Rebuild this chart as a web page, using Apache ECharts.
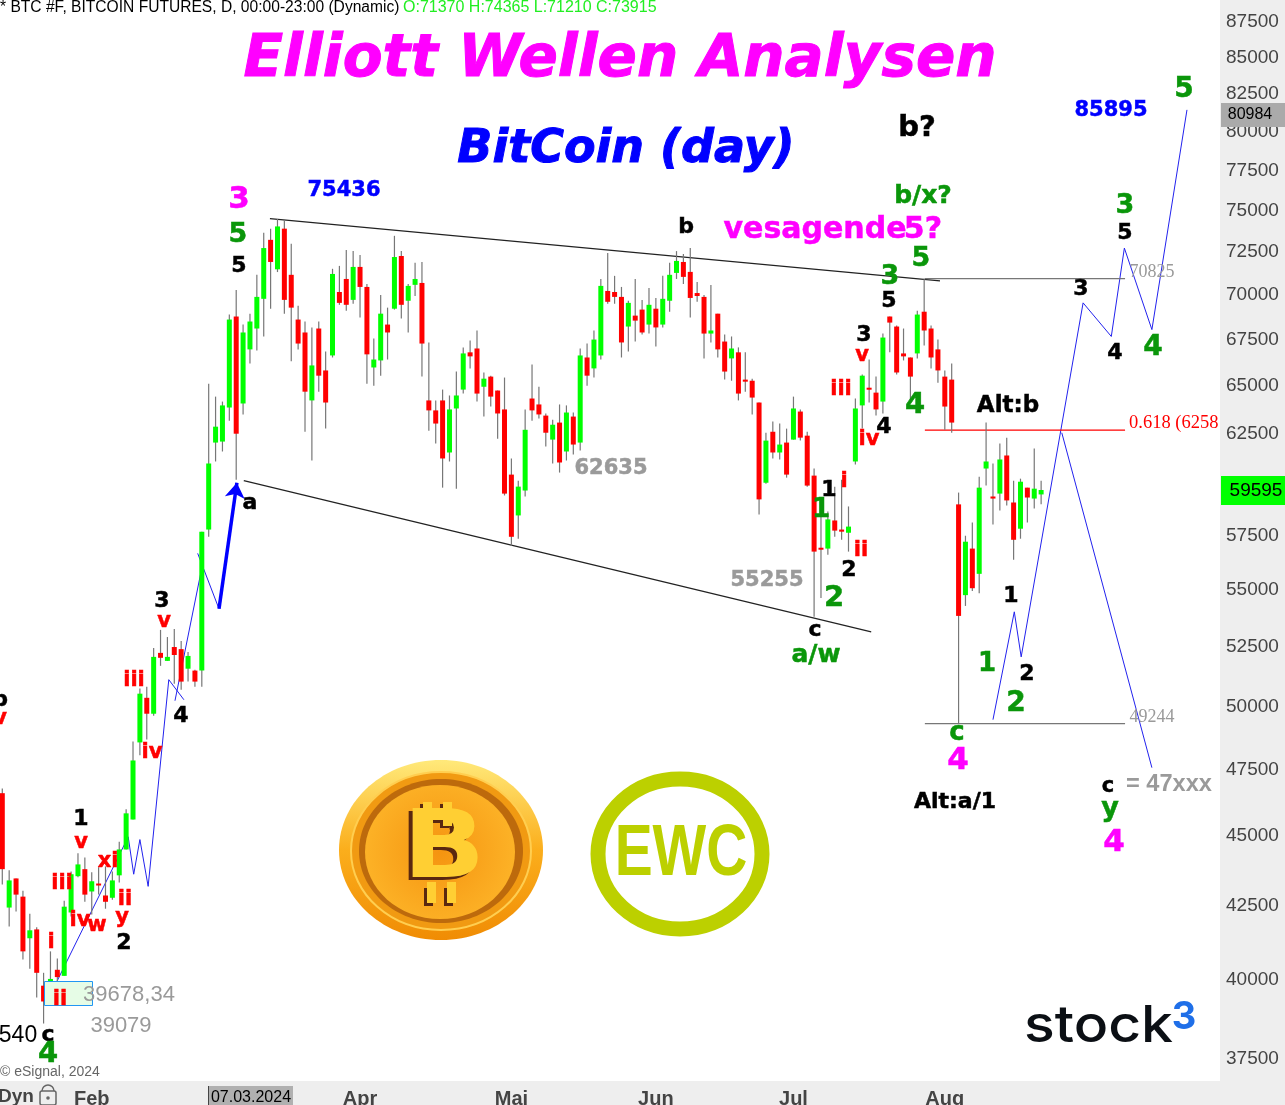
<!DOCTYPE html>
<html>
<head>
<meta charset="utf-8">
<title>BitCoin (day)</title>
<style>
  html, body { margin: 0; padding: 0; background: #fff; }
  #chart { width: 1285px; height: 1105px; }
</style>
<script src="https://cdn.jsdelivr.net/npm/echarts@6/dist/echarts.min.js"></script>
</head>
<body>
<div id="chart"></div>
<script>
// trading days, index 0 is the first visible candle
const opens = [
  46520, 42370, 43390, 42750, 41320, 41620, 39750, 39870, 40270, 40070,
  42200, 43470, 43720, 42930, 43210, 42790, 42710, 43500, 44430, 45530,
  48490, 50290, 49640, 52170, 51830, 52420, 52330, 51500, 51420, 51420,
  57700, 61950, 62000, 63750, 68670, 63960, 66850, 68000, 69670, 73110,
  71370, 73780, 71050, 68500, 67780, 64120, 68000, 65710, 66520, 70060,
  70810, 69610, 71510, 70350, 65870, 66250, 68220, 69110, 72150, 69560,
  70470, 70580, 64120, 63600, 64120, 61450, 63700, 64690, 66690, 66900,
  64840, 65380, 64640, 63650, 60350, 58370, 59570, 64220, 63910, 63330,
  62100, 62970, 61500, 63280, 61950, 66410, 65820, 66520, 70120, 70060,
  69780, 68110, 68720, 69060, 68220, 69110, 68220, 69560, 71160, 71800,
  71220, 70000, 69780, 67720, 68830, 67280, 66360, 66690, 65220, 65160,
  64010, 59950, 62500, 61450, 61950, 62100, 63540, 62300, 60300, 56850,
  56810, 58130, 57700, 57550, 61000, 63860, 64790, 64530, 64060, 68670,
  68110, 66630, 66410, 66630, 68940, 68000, 66850, 65380, 65220, 58900,
  54690, 56810, 55650, 60650, 59280, 59420, 61300, 58990, 57740, 59710,
  59180, 59380
]
const highs = [
  46700, 43680, 43390, 42960, 42160, 41690, 40170, 40880, 40640, 42610,
  43640, 44290, 44140, 43610, 43790, 43820, 43640, 44710, 45910, 48530,
  50670, 50750, 52380, 53160, 52850, 53200, 52680, 52210, 51460, 57600,
  65000, 64320, 64060, 68780, 70170, 68220, 68830, 71050, 73540, 73780,
  74365, 74300, 72870, 69280, 68390, 68060, 68390, 66740, 71400, 71570,
  72500, 72440, 72210, 70520, 67450, 69890, 69170, 73350, 72440, 70520,
  71750, 71800, 67230, 64120, 64690, 64380, 65650, 66960, 67340, 67890,
  65600, 65430, 64640, 65330, 61150, 60050, 63650, 66030, 64840, 63440,
  63120, 63910, 63860, 63490, 66900, 67170, 67890, 70810, 72330, 70990,
  70350, 69560, 70810, 69610, 70290, 69720, 70990, 71750, 72440, 72270,
  72620, 70640, 69890, 70460, 68830, 67670, 67560, 66960, 66690, 65270,
  64010, 62450, 63020, 62920, 62660, 64320, 63650, 62500, 60650, 58560,
  58560, 59760, 60100, 58800, 64220, 65490, 66300, 65380, 67720, 68670,
  68170, 68000, 66410, 69000, 70825, 68170, 67390, 65710, 66090, 59470,
  57410, 58030, 60250, 62970, 60900, 61900, 62200, 60050, 60150, 59710,
  61650, 60050
]
const lows = [
  43180, 41720, 42230, 40610, 40300, 39370, 38540, 39780, 39870, 40070,
  42060, 43430, 42570, 42130, 42820, 42330, 42640, 43250, 44430, 45530,
  47980, 48610, 49560, 51620, 51830, 50870, 50620, 50960, 50750, 50750,
  57360, 61000, 61500, 63070, 60100, 63390, 66090, 66790, 67560, 69110,
  71210, 68830, 66200, 66850, 62500, 61050, 64580, 62660, 66410, 69330,
  69000, 69390, 68610, 65000, 64900, 65430, 66300, 69060, 68560, 67780,
  69830, 65380, 62550, 61900, 59710, 61000, 59660, 64480, 65820, 64060,
  63280, 63800, 62150, 59330, 56940, 57270, 59280, 63070, 63180, 61750,
  60900, 60450, 61050, 61350, 61550, 64900, 65330, 66300, 69390, 69390,
  66410, 66740, 67280, 67670, 67720, 67010, 68060, 68940, 70810, 70520,
  68610, 69500, 66360, 67230, 66410, 65220, 65160, 64120, 64580, 63390,
  58420, 59900, 61150, 61100, 60200, 62100, 62050, 59760, 53730, 54560,
  56530, 57360, 57220, 56670, 60850, 62660, 64010, 63330, 63440, 66690,
  65490, 66250, 64170, 66360, 67060, 65820, 65050, 62600, 62450, 49244,
  54210, 54870, 54780, 59810, 57940, 58610, 58850, 56300, 57270, 58030,
  58700, 58900
]
const closes = [
  43720, 43320, 42820, 40880, 41590, 40170, 39240, 39970, 40030, 42400,
  43540, 43890, 42820, 43290, 43140, 42570, 43320, 44430, 45760, 47780,
  50460, 49640, 52000, 51960, 52000, 52080, 50960, 52040, 50960, 57600,
  60900, 62760, 63860, 68500, 62400, 67780, 68390, 69780, 72620, 71800,
  73915, 69610, 69170, 67170, 64580, 65980, 65430, 64010, 71100, 69440,
  69330, 71510, 70350, 66580, 66300, 68830, 67780, 72090, 69330, 70410,
  70810, 67170, 63600, 62920, 61150, 63650, 64380, 66630, 66470, 64480,
  65270, 64320, 63440, 59420, 57360, 59760, 62600, 63600, 63390, 62450,
  62860, 60950, 63490, 61850, 66520, 65430, 67390, 70410, 69500, 69780,
  67230, 69440, 68440, 67780, 69330, 68060, 69670, 71050, 71860, 70930,
  69720, 69830, 67720, 67890, 66850, 65650, 66900, 64480, 65110, 64270,
  59140, 62050, 61450, 61850, 60350, 63700, 62200, 59810, 56670, 56760,
  58180, 57650, 57600, 57840, 63700, 65430, 64690, 63650, 67500, 68330,
  65600, 66470, 65380, 68780, 67890, 66410, 65710, 63800, 62970, 53770,
  57130, 55000, 59710, 61000, 59180, 61100, 59090, 57220, 60000, 59230,
  59660, 59595
]

const priceTicks = [
  87500, 85000, 82500, 80000, 77500, 75000, 72500, 70000, 67500, 65000, 62500,
  57500, 55000, 52500, 50000, 47500, 45000, 42500, 40000, 37500
]
const monthNames = ['Feb', 'Apr', 'Mai', 'Jun', 'Jul', 'Aug']
const monthDays = [13, 52, 74, 95, 115, 137]

// trend lines and the drawn wave counts, [day index, price]
const channelTop = [[38.9, 74390], [136.3, 70700]]
const channelBottom = [[35.1, 60050], [126.3, 53070]]
const level70825 = [[134.1, 70825], [163.2, 70825]]
const level618 = [[134.1, 62580], [163.2, 62580]]
const level49244 = [[134.1, 49244], [163.2, 49244]]
const waveEarly = [[7.9, 39870], [18.3, 44890], [19.1, 43540], [20, 44790], [21.2, 43110], [24.2, 51040], [26.4, 50210]]
const waveEarly2 = [[25.1, 50170], [29, 55920]]
const waveEarly3 = [[28.4, 56590], [31.5, 54080]]
const arrowUp = [[31.5, 54080], [34.1, 59950]]
const waveUp = [[144, 49400], [147.1, 53950], [148.1, 52000], [157.1, 69440], [161.2, 67560], [163.1, 72620], [167.1, 67940], [172.2, 81300]]
const waveDown = [[154, 62450], [167.1, 47500]]

const candleData = opens.map((o, i) => [i, o, highs[i], lows[i], closes[i]])

function renderCandle(params, api) {
  const x = api.value(0)
  const o = api.coord([x, api.value(1)])
  const h = api.coord([x, api.value(2)])
  const l = api.coord([x, api.value(3)])
  const c = api.coord([x, api.value(4)])
  const top = Math.min(o[1], c[1])
  const bodyH = Math.max(Math.abs(o[1] - c[1]), 2)
  const isUp = api.value(4) >= api.value(1)
  return {
    type: 'group',
    children: [
      {
        type: 'line',
        shape: { x1: o[0], y1: h[1], x2: o[0], y2: l[1] },
        style: { stroke: '#777', lineWidth: 1.2 }
      },
      {
        type: 'rect',
        shape: { x: o[0] - 2.5, y: top, width: 5, height: bodyH },
        style: { fill: isUp ? '#00ff00' : '#ff0000' }
      }
    ]
  }
}

function line(data, color, width) {
  return {
    type: 'line',
    data: data,
    showSymbol: false,
    silent: true,
    z: 1,
    lineStyle: { color: color, width: width || 1 }
  }
}

// annotation text, the chart tool's free hand labels
const BOLD = '"DejaVu Sans"'
const ARIAL = '"Liberation Sans"'
function txt(text, x, y, size, color, extra) {
  return {
    type: 'text',
    x: x,
    y: y + 2,
    z: 100,
    silent: true,
    style: Object.assign({
      text: text,
      fill: color,
      stroke: color,
      lineWidth: 0.5,
      font: 'bold ' + size + 'px ' + BOLD,
      align: 'center',
      verticalAlign: 'middle'
    }, extra || {})
  }
}
const plain = (size, font) => ({ font: size + 'px ' + (font || ARIAL), lineWidth: 0 })

const RED = '#ff0000'
const GREEN = '#0a960a'
const PINK = '#ff00ff'
const BLUE = '#0000ff'
const GREY = '#9a9a9a'
const BLACK = '#000'

const labels = [
  txt('Elliott Wellen Analysen', 620, 59, 58, PINK, { font: 'italic bold 58px ' + BOLD, lineWidth: 1 }),
  txt('BitCoin (day)', 626, 148, 46, BLUE, { font: 'italic bold 46px ' + BOLD, lineWidth: 1 }),

  txt('75436', 344, 189, 21, BLUE),
  txt('85895', 1111, 109, 21, BLUE),
  txt('62635', 611, 467, 21, GREY),
  txt('55255', 767, 579, 21, GREY),

  txt('3', 239, 198, 31, PINK),
  txt('5', 238, 233, 27, GREEN),
  txt('5', 239, 264, 22, BLACK),
  txt('a', 250, 501, 22, BLACK),
  txt('b', 686, 225, 22, BLACK),
  txt('b?', 917, 126, 29, BLACK),
  txt('b/x?', 923, 194, 25, GREEN),
  txt('vesagende', 815, 228, 30, PINK),
  txt('5?', 923, 228, 30, PINK),
  txt('3', 890, 275, 27, GREEN),
  txt('5', 889, 299, 22, BLACK),
  txt('5', 921, 257, 27, GREEN),
  txt('3', 864, 333, 22, BLACK),
  txt('v', 862, 354, 21, RED),
  txt('iii', 841, 388, 21, RED),
  txt('4', 915, 403, 29, GREEN),
  txt('4', 884, 425, 22, BLACK),
  txt('iv', 869, 438, 21, RED),
  txt('Alt:b', 1008, 404, 23, BLACK),
  txt('1', 829, 488, 22, BLACK),
  txt('1', 821, 508, 26, GREEN),
  txt('i', 844, 480, 21, RED),
  txt('ii', 861, 549, 21, RED),
  txt('2', 849, 568, 22, BLACK),
  txt('2', 834, 596, 29, GREEN),
  txt('c', 815, 628, 22, BLACK),
  txt('a/w', 816, 653, 25, GREEN),

  txt('c', 957, 731, 26, GREEN),
  txt('4', 958, 759, 31, PINK),
  txt('Alt:a/1', 955, 800, 22, BLACK),
  txt('1', 1011, 594, 22, BLACK),
  txt('2', 1027, 672, 22, BLACK),
  txt('1', 987, 662, 26, GREEN),
  txt('2', 1016, 702, 28, GREEN),
  txt('3', 1081, 287, 22, BLACK),
  txt('4', 1115, 351, 22, BLACK),
  txt('4', 1153, 346, 28, GREEN),
  txt('3', 1125, 204, 27, GREEN),
  txt('5', 1125, 231, 22, BLACK),
  txt('5', 1184, 88, 28, GREEN),
  txt('c', 1108, 785, 21, BLACK),
  txt('y', 1110, 807, 27, GREEN),
  txt('= 47xxx', 1169, 782, 23, GREY, { font: 'bold 23.6px ' + ARIAL, lineWidth: 0 }),
  txt('4', 1114, 841, 31, PINK),

  txt('b', 0, 698, 22, BLACK),
  txt('v', 0, 717, 21, RED),
  txt('3', 162, 599, 22, BLACK),
  txt('v', 164, 620, 21, RED),
  txt('iii', 134, 679, 21, RED),
  txt('iv', 152, 751, 21, RED),
  txt('4', 181, 714, 22, BLACK),
  txt('1', 81, 817, 22, BLACK),
  txt('v', 81, 841, 21, RED),
  txt('iii', 62, 882, 21, RED),
  txt('xi', 108, 860, 21, RED),
  txt('iv', 80, 919, 21, RED),
  txt('w', 97, 924, 21, RED),
  txt('ii', 125, 898, 21, RED),
  txt('y', 122, 916, 21, RED),
  txt('2', 124, 941, 22, BLACK),
  txt('i', 51, 941, 21, RED),
  txt('ii', 60, 998, 21, RED),
  txt('c', 48, 1033, 22, BLACK),
  txt('4', 48, 1052, 29, GREEN),
  txt('540', 18, 1034, 23, BLACK, plain(23)),
  txt('39678,34', 129, 993, 22, GREY, plain(22)),
  txt('39079', 121, 1024, 22, GREY, plain(22)),

  txt('70825', 1152, 270, 18, GREY, plain(18, '"Liberation Serif"')),
  txt('49244', 1152, 715, 18, GREY, plain(18, '"Liberation Serif"')),
  // runs under the price scale panel, so the panel cuts it off
  Object.assign(txt('0.618 (62581', 1129, 421, 17, RED, Object.assign(plain(18.5, '"Liberation Serif"'), { align: 'left' })), { z: -2 }),

  txt('* BTC #F, BITCOIN FUTURES, D, 00:00-23:00 (Dynamic)', 0, 6, 16, BLACK, Object.assign(plain(15.6), { align: 'left' })),
  txt('O:71370 H:74365 L:71210 C:73915', 403, 6, 16, '#22ee22', Object.assign(plain(16), { align: 'left' })),
  txt('\u00a9 eSignal, 2024', 0, 1070, 14, '#666', Object.assign(plain(14), { align: 'left' }))
]

// panels and boxes round the price scale
const panels = [
  { type: 'rect', z: -1, shape: { x: 1220, y: 0, width: 65, height: 1105 }, style: { fill: '#eeeeee' } },
  { type: 'rect', z: -1, shape: { x: 0, y: 1081, width: 1285, height: 24 }, style: { fill: '#eeeeee' } },
  { type: 'rect', z: 99, shape: { x: 1221, y: 476, width: 64, height: 29 }, style: { fill: '#00ff00' } },
  txt('59595', 1256, 489, 19, BLACK, plain(19)),
  { type: 'rect', z: 99, shape: { x: 1221, y: 103, width: 64, height: 24 }, style: { fill: '#aaaaaa' } },
  txt('80984', 1250, 113, 16, BLACK, plain(16)),
  { type: 'rect', z: 99, shape: { x: 208, y: 1086, width: 85, height: 19 }, style: { fill: '#b0b0b0' } },
  txt('07.03.2024', 251, 1096, 16, BLACK, plain(16)),
  { type: 'rect', z: 99, shape: { x: 208, y: 1086, width: 1, height: 19 }, style: { fill: '#444' } },
  txt('Dyn', -2, 1095, 19, '#444', { font: 'bold 19px ' + ARIAL, align: 'left', lineWidth: 0 }),
  { type: 'rect', z: 99, shape: { x: 40, y: 1091, width: 16, height: 14, r: 2 }, style: { fill: '#eeeeee', stroke: '#666', lineWidth: 1.5 } },
  { type: 'arc', z: 99, shape: { cx: 48, cy: 1091, r: 6, startAngle: Math.PI, endAngle: 0 }, style: { fill: 'none', stroke: '#666', lineWidth: 1.5 } },
  { type: 'circle', z: 99, shape: { cx: 48, cy: 1098, r: 1.8 }, style: { fill: '#666' } },
  { type: 'rect', z: 3, shape: { x: 44.5, y: 981.5, width: 48, height: 24 }, style: { fill: '#e6fce6', stroke: '#2196f3', lineWidth: 1 } }
]

// bitcoin coin
const coinB = (x, y, color, z) => ({
  type: 'text',
  x: x,
  y: y,
  z: z,
  scaleX: 1.15,
  style: { text: 'B', font: 'bold 94px ' + BOLD, align: 'center', verticalAlign: 'middle', fill: color }
})
const bar = (x, y, h, color, z) => ({ type: 'rect', z: z, shape: { x: x, y: y, width: 9, height: h }, style: { fill: color } })
const coin = [
  { type: 'ellipse', z: 40, shape: { cx: 441, cy: 850, rx: 102, ry: 90 }, style: { fill: new echarts.graphic.LinearGradient(0, 0, 0, 1, [{ offset: 0, color: '#ffe97a' }, { offset: 0.5, color: '#fbae1c' }, { offset: 1, color: '#f08c04' }]) } },
  { type: 'ellipse', z: 41, shape: { cx: 441, cy: 851, rx: 90, ry: 79 }, style: { fill: '#f19a12', stroke: '#ffce50', lineWidth: 2 } },
  { type: 'ellipse', z: 42, shape: { cx: 441, cy: 851, rx: 82, ry: 72 }, style: { fill: '#bd6a0c' } },
  { type: 'ellipse', z: 43, shape: { cx: 440, cy: 852, rx: 75, ry: 67 }, style: { fill: new echarts.graphic.RadialGradient(0.5, 0.5, 0.6, [{ offset: 0, color: '#f59410' }, { offset: 1, color: '#fdb428' }]) } },
  bar(420, 804, 24, '#5a2810', 48),
  bar(440, 804, 24, '#5a2810', 48),
  bar(424, 888, 18, '#5a2810', 48),
  bar(444, 888, 18, '#5a2810', 48),
  bar(423, 802, 24, '#ffcf33', 50),
  bar(443, 802, 24, '#ffcf33', 50),
  bar(427, 882, 21, '#ffcf33', 50),
  bar(447, 882, 21, '#ffcf33', 50),
  coinB(440, 856, '#5a2810', 49),
  coinB(444, 853, '#ffcf33', 50)
]

// EWC and stock3 logos
const logos = [
  { type: 'ellipse', z: 40, shape: { cx: 680, cy: 854, rx: 82, ry: 75 }, style: { fill: 'none', stroke: '#bcd000', lineWidth: 15 } },
  Object.assign(txt('EWC', 681, 853, 72, '#bcd000', { font: 'bold 72px ' + ARIAL, lineWidth: 0 }), { scaleX: 0.79 }),
  Object.assign(txt('stock', 1024, 1025, 50, '#0b0f14', { font: '500 51px Inter', align: 'left', lineWidth: 0 }), { scaleX: 1.12 }),
  txt('3', 1184, 1016, 38, '#1f6fe8', { font: 'bold 38px Inter', lineWidth: 0 })
]

const chart = echarts.init(document.getElementById('chart'), null, { renderer: 'canvas' })
chart.setOption({
  animation: false,
  backgroundColor: '#fff',
  grid: { left: 0, right: 65, top: 0, bottom: 24, outerBoundsMode: 'none' },
  xAxis: {
    type: 'value',
    min: -0.334,
    max: 177,
    splitLine: { show: false },
    axisLine: { show: false },
    axisTick: { show: false },
    axisLabel: {
      customValues: monthDays,
      margin: 8,
      color: '#444',
      fontFamily: 'Liberation Sans',
      fontWeight: 'bold',
      fontSize: 20,
      formatter: v => monthNames[monthDays.indexOf(v)]
    }
  },
  yAxis: {
    type: 'log',
    logBase: 10,
    position: 'right',
    min: 36772,
    max: 88935,
    splitLine: { show: false },
    axisLine: { show: false },
    axisTick: { show: false },
    axisLabel: {
      customValues: priceTicks,
      margin: 6,
      formatter: v => '{t|' + Math.round(v) + '}',
      rich: {
        t: {
          color: '#444',
          fontFamily: 'Liberation Sans',
          fontSize: 19,
          padding: [4, 0, 0, 0]
        }
      }
    }
  },
  graphic: { elements: panels.concat(coin, logos, labels) },
  series: [
    line(waveEarly, '#2222ee'),
    line(waveEarly2, '#2222ee'),
    line(waveEarly3, '#2222ee'),
    line(waveUp, '#2222ee'),
    line(waveDown, '#2222ee'),
    line(channelTop, '#222', 1.2),
    line(channelBottom, '#222', 1.2),
    line(level70825, '#777', 1.2),
    line(level618, '#ff0000', 1.2),
    line(level49244, '#777', 1.2),
    {
      type: 'lines',
      coordinateSystem: 'cartesian2d',
      silent: true,
      z: 4,
      symbol: ['none', 'arrow'],
      symbolSize: 15,
      lineStyle: { color: '#0000ff', width: 3.5, opacity: 1, curveness: 0 },
      data: [{ coords: arrowUp }]
    },
    {
      type: 'custom',
      renderItem: renderCandle,
      data: candleData,
      encode: { x: 0, y: [1, 2, 3, 4] },
      clip: true,
      silent: true,
      z: 2
    }
  ]
})
</script>
</body>
</html>
